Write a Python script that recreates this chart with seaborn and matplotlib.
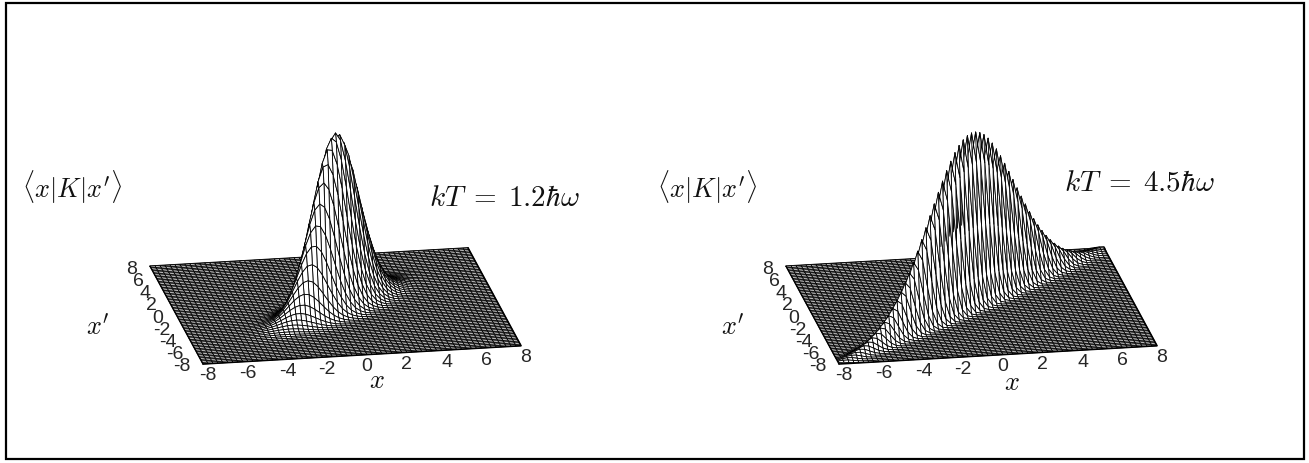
import numpy as np
import matplotlib
matplotlib.use('Agg')
import matplotlib.pyplot as plt
from matplotlib.patches import Rectangle
from mpl_toolkits.mplot3d import proj3d
import seaborn as sns

# height along the ridge x=x', from the peak outwards, one entry per half grid step
left_ridge = [1.000, .995, .980, .956, .923, .882, .835, .783, .726, .667, .607, .546, .487,
              .430, .375, .325, .278, .236, .198, .164, .135, .110, .089, .071, .056, .044,
              .034, .026, .020, .015, .011, .008, .006, .004, .003, .002, .002, .001, .001]
right_ridge = [1.000, .999, .995, .990, .981, .971, .959, .944, .928, .909, .889, .868, .845,
               .820, .795, .768, .741, .713, .684, .655, .626, .596, .567, .538, .509, .481,
               .453, .426, .399, .373, .348, .324, .301, .279, .258, .238, .219, .201, .184,
               .168, .153, .139, .126, .115, .103, .093, .084, .075, .067, .060, .053, .047,
               .042, .037, .033, .029, .025, .022, .019, .017, .015, .013, .011, .010, .008]
# fall off across the ridge, one entry per grid step away from x=x'
left_across = [1.000, .961, .853, .700, .530, .371, .240, .143, .079, .040, .019, .008, .003, .001]
right_across = [1.000, .829, .472, .185, .050, .009, .001]

grid_x = np.linspace(-8, 8, 65)
tick_values = [-8, -6, -4, -2, 0, 2, 4, 6, 8]
tick_labels = ['-8', '-6', '-4', '-2', '0', '2', '4', '6', '8']
kernel_label = r'$\langle x|K|x^{\prime}\rangle$'
left_title = r'$kT\;=\;1.2\hbar\omega$'
right_title = r'$kT\;=\;4.5\hbar\omega$'

W, H = 1309, 464


def surface_table(ridge, across):
    n = len(grid_x)
    z = np.zeros((n, n))
    for i in range(n):
        for j in range(n):
            k = abs(i + j - (n - 1))
            d = abs(i - j)
            if k < len(ridge) and d < len(across):
                z[i, j] = ridge[k] * across[d]
    return z


def corner_px(ax, x, y):
    x2, y2, _ = proj3d.proj_transform(x, y, 0, ax.get_proj())
    return ax.transData.transform((x2, y2))


def fit_axes(fig, ax, front_left, front_right):
    # scale and shift the square axes so that the base lands on the wanted pixels
    fig.canvas.draw()
    p0 = corner_px(ax, -8, -8)
    p1 = corner_px(ax, 8, -8)
    scale = (front_right[0] - front_left[0]) / (p1[0] - p0[0])
    pos = ax.get_position()
    ax.set_position([pos.x0, pos.y0, pos.width * scale, pos.height * scale])
    fig.canvas.draw()
    p0 = corner_px(ax, -8, -8)
    pos = ax.get_position()
    dx = (front_left[0] - p0[0]) / W
    dy = ((H - front_left[1]) - p0[1]) / H
    ax.set_position([pos.x0 + dx, pos.y0 + dy, pos.width, pos.height])
    fig.canvas.draw()


def panel(fig, z, front_left, front_right):
    ax = fig.add_axes([0.1, 0.1, 500 / W, 500 / H], projection='3d', proj_type='ortho',
                      computed_zorder=False)
    X, Y = np.meshgrid(grid_x, grid_x)
    # back border goes under the surface, front border over it
    ax.plot([-8, 8], [8, 8], [0, 0], color='black', lw=1.2, zorder=1)
    ax.plot_surface(X, Y, z, rstride=1, cstride=1, color='white',
                    shade=False, edgecolor='black', linewidth=0.6, antialiased=True, zorder=2)
    ax.plot([-8, 8, 8], [-8, -8, 8], [0, 0, 0], color='black', lw=1.2, zorder=3)
    ax.plot([-8, -8], [-8, 8], [0, 0], color='black', lw=1.0, zorder=3)
    ax.set_xlim(-8, 8)
    ax.set_ylim(-8, 8)
    ax.set_zlim(0, 1)
    ax.set_box_aspect((323, 305, 183))
    ax.view_init(elev=19, azim=-100)
    ax.set_axis_off()
    fit_axes(fig, ax, front_left, front_right)

    for v, lab in zip(tick_values, tick_labels):
        x2, y2 = proj3d.proj_transform(v, -8, 0, ax.get_proj())[:2]
        ax.annotate(lab, (x2, y2), xytext=(5, -11), textcoords='offset pixels', ha='center',
                    va='center', fontsize=14, annotation_clip=False)
        x2, y2 = proj3d.proj_transform(-8, v, 0, ax.get_proj())[:2]
        ax.annotate(lab, (x2, y2), xytext=(-13, -2), textcoords='offset pixels', ha='right',
                    va='center', fontsize=14, annotation_clip=False)
    return ax


def px_text(fig, x, y, s, size=19):
    fig.text(x / W, 1 - y / H, s, ha='center', va='center', fontsize=size, color='#111111')


def main():
    sns.set_theme(style='white')
    plt.rcParams['font.family'] = ['Liberation Sans', 'DejaVu Sans']
    plt.rcParams['mathtext.fontset'] = 'cm'

    fig = plt.figure(figsize=(W / 100, H / 100), dpi=100)
    fig.add_artist(Rectangle((6 / W, 1 - 460 / H), 1298 / W, 456 / H, transform=fig.transFigure,
                             fill=False, edgecolor='black', lw=1.6))

    panel(fig, surface_table(left_ridge, left_across), (203, 365), (521, 347))
    panel(fig, surface_table(right_ridge, right_across), (839, 365), (1157, 347))

    px_text(fig, 72, 187, kernel_label)
    px_text(fig, 707, 187, kernel_label)
    px_text(fig, 504, 198, left_title, size=21)
    px_text(fig, 1139, 183, right_title, size=21)
    px_text(fig, 98, 327, r'$x^{\prime}$')
    px_text(fig, 733, 327, r'$x^{\prime}$')
    px_text(fig, 377, 381, r'$x$')
    px_text(fig, 1012, 383, r'$x$')

    fig.savefig('out.png', dpi=100)


if __name__ == '__main__':
    main()
